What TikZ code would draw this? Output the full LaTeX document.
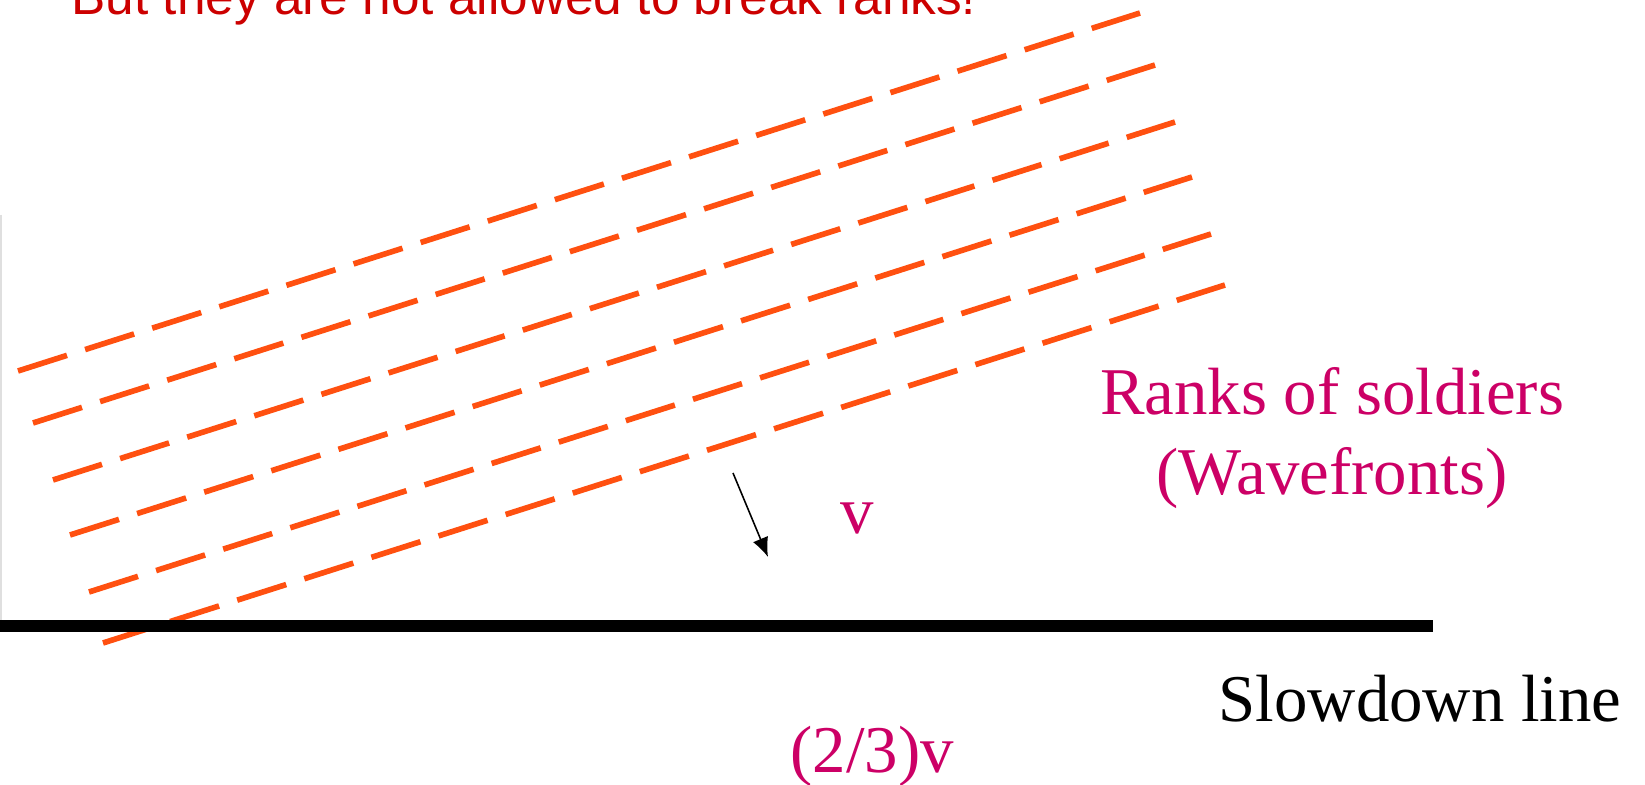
\documentclass[tikz,border=0pt]{standalone}
\usepackage{fontspec}
\setmainfont{Liberation Serif}
\setsansfont{Liberation Sans}
\usetikzlibrary{arrows.meta,positioning}
\usepackage{xcolor}
\definecolor{rankOrange}{HTML}{FF5010}
\definecolor{waveMagenta}{HTML}{CC0066}
\definecolor{warnRed}{HTML}{CC0000}
\tikzset{
rankline/.style={draw=rankOrange, line width=1.6pt, dash pattern=on 0.514cm off 0.19cm},
magtext/.style={inner sep=0pt, text=waveMagenta, font=\fontsize{19}{22.8}\selectfont, align=center},
plaintext/.style={inner sep=0pt, font=\fontsize{19}{22.8}\selectfont},
warntext/.style={inner sep=0pt, text=warnRed, font=\sffamily\fontsize{14.6}{17}\selectfont},
vel/.style={-{Latex[length=5.5pt,width=4.6pt]}, line width=0.45pt}
}
\begin{document}
\begin{tikzpicture}[x=0.01cm,y=0.01cm]
\useasboundingbox (0,0) rectangle (1645,785);
% caption cut off at the top
\node[warntext, anchor=base west] (warn) at (71,770) {But they are not allowed to break ranks!};
% ranks of soldiers
\foreach \x/\y in {18/414,33/362,53/305,70/250,89/193,103/142}{
\draw[rankline] (\x,\y) -- ++(1122,358);
}
% slowdown line
\draw[gray!25, line width=0.45pt] (0.75,570) -- (0.75,165);
\draw[black, line width=3.4pt] (0,159) -- (1433,159);
\coordinate (vtail) at (733,312);
\coordinate (vhead) at (768,228);
\draw[vel] (vtail) -- (vhead);
\node[magtext, anchor=base west] (vfast) at (840,251) {v};
\node[magtext, anchor=base west] (vslow) at (790,12) {(2/3)v};
\node[magtext, anchor=base] (ranks) at (1332,290) {Ranks of soldiers\\(Wavefronts)};
\node[plaintext, anchor=base west] (slow) at (1218,63) {Slowdown line};
\end{tikzpicture}
\end{document}
